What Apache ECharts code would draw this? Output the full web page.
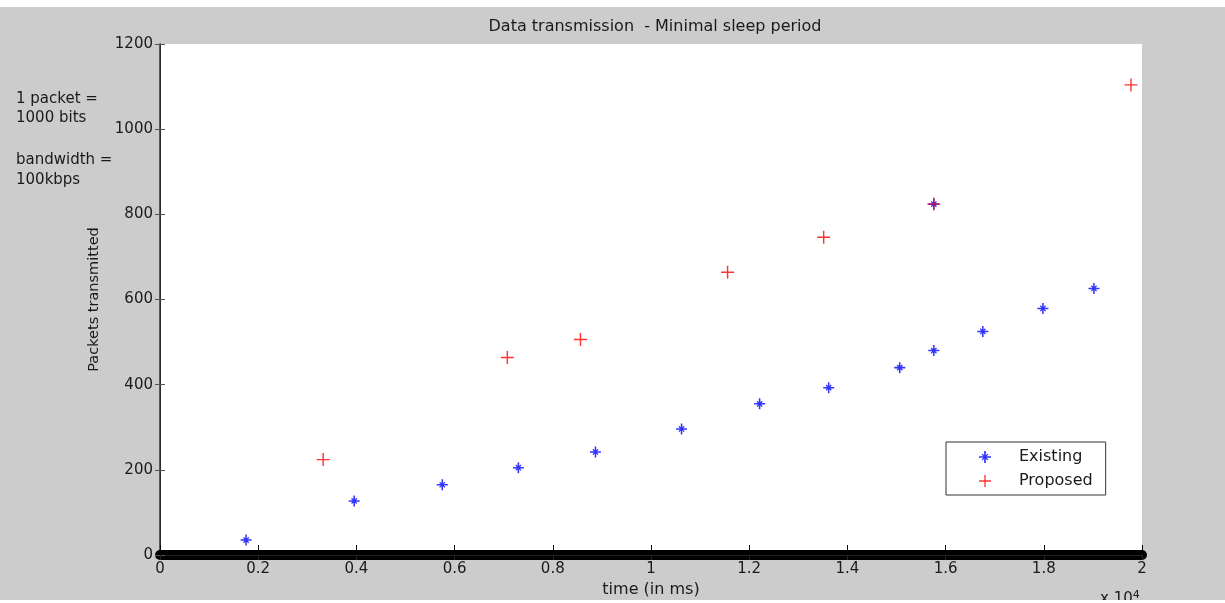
<!DOCTYPE html>
<html>
<head>
<meta charset="utf-8">
<script src="https://cdn.jsdelivr.net/npm/echarts@6/dist/echarts.min.js"></script>
<style>
html,body{margin:0;padding:0;background:#fff;width:1225px;height:603px;overflow:hidden;}
#chart{position:absolute;left:0;top:7px;width:1225px;height:593px;background:#cccccc;}
</style>
</head>
<body>
<div id="chart"></div>
<script>
const existingX = [1753, 3955, 5749, 7299, 8869, 10622, 12212, 13619, 15066, 15760, 15760, 16758, 17982, 19021];
const existingY = [35, 127, 165, 205, 242, 296, 355, 393, 440, 480, 824, 525, 579, 626];
const proposedX = [3323, 7074, 8563, 11560, 13517, 15760, 19776];
const proposedY = [224, 464, 506, 664, 746, 824, 1104];
const xTickLabels = ['0', '0.2', '0.4', '0.6', '0.8', '1', '1.2', '1.4', '1.6', '1.8', '2'];
const yTickLabels = ['0', '200', '400', '600', '800', '1000', '1200'];
const noteLines = ['1 packet =', '1000 bits', 'bandwidth =', '100kbps'];

const FONT = 'DejaVu Sans';
const TXT = '#1a1a1a';
const starPath = 'path://M4.3,0h1.4v10h-1.4z M0,4.3h10v1.4h-10z M2.2,3L3,2.2L7.8,7L7,7.8z M7,2.2L7.8,3L3,7.8L2.2,7z';
const plusPath = 'path://M4.45,0h1.1v10h-1.1z M0,4.45h10v1.1h-10z';

const chart = echarts.init(document.getElementById('chart'));
const xMax = 20000, xStep = 2000, yMax = 1200, yStep = 200;

chart.setOption({
  animation: false,
  title: {
    text: 'Data transmission  - Minimal sleep period',
    left: 650, top: 7, textAlign: 'center',
    textStyle: {fontFamily: FONT, fontSize: 16, fontWeight: 'normal', color: TXT}
  },
  grid: {left: 160, right: 83, top: 37, bottom: 45, show: true, backgroundColor: '#ffffff', borderWidth: 0,
    containLabel: false, outerBoundsMode: 'none'},
  legend: {
    orient: 'vertical', left: 946, top: 435,
    backgroundColor: '#ffffff', borderColor: '#333', borderWidth: 1,
    padding: [7, 13, 6, 33], itemGap: 8, itemWidth: 58, itemHeight: 12,
    textStyle: {fontFamily: FONT, fontSize: 16, color: TXT},
    data: [{name: 'Existing', icon: starPath}, {name: 'Proposed', icon: plusPath}]
  },
  xAxis: [{
    type: 'value', min: 0, max: xMax, interval: xStep, position: 'bottom',
    name: 'time (in ms)', nameLocation: 'middle', nameGap: 27,
    nameTextStyle: {fontFamily: FONT, fontSize: 16, color: TXT},
    axisLine: {lineStyle: {color: '#000', width: 10, cap: 'round'}},
    axisTick: {inside: true, length: 10, lineStyle: {color: '#000'}},
    axisLabel: {margin: 7, fontFamily: FONT, fontSize: 15, color: TXT,
      formatter: v => xTickLabels[Math.round(v / xStep)]},
    splitLine: {show: false}
  }, {
    type: 'value', min: 0, max: xMax, interval: xStep, position: 'top',
    axisLine: {lineStyle: {color: '#222', width: 1}},
    axisTick: {inside: true, length: 5, lineStyle: {color: '#222'}},
    axisLabel: {show: false}, splitLine: {show: false}
  }],
  yAxis: [{
    type: 'value', min: 0, max: yMax, interval: yStep, position: 'left',
    name: 'Packets transmitted', nameLocation: 'middle', nameGap: 58,
    nameTextStyle: {fontFamily: FONT, fontSize: 14.5, color: TXT},
    axisLine: {lineStyle: {color: '#111', width: 1}},
    axisTick: {inside: true, length: 5, lineStyle: {color: '#555'}},
    axisLabel: {margin: 7, fontFamily: FONT, fontSize: 15, color: TXT,
      formatter: v => yTickLabels[Math.round(v / yStep)]},
    splitLine: {show: false}
  }, {
    type: 'value', min: 0, max: yMax, interval: yStep, position: 'right',
    axisLine: {lineStyle: {color: '#333', width: 1.5}},
    axisTick: {inside: true, length: 5, lineStyle: {color: '#555'}},
    axisLabel: {show: false}, splitLine: {show: false}
  }],
  graphic: noteLines.map((t, i) => ({
    type: 'text', left: 16, top: [85, 104, 146, 166][i],
    style: {text: t, fontFamily: FONT, fontSize: 15, fill: TXT}
  })).concat([{
    type: 'text', left: 1100, top: 583,
    style: {
      text: 'x 10{s|4}', fontFamily: FONT, fontSize: 15, fill: TXT,
      rich: {s: {fontFamily: FONT, fontSize: 11, fill: TXT, verticalAlign: 'top', padding: [0, 0, 8, 0]}}
    }
  }]),
  series: [{
    name: 'Existing', type: 'scatter', symbol: starPath, symbolSize: 11,
    itemStyle: {color: '#0000ff'},
    data: existingX.map((x, i) => [x, existingY[i]])
  }, {
    name: 'Proposed', type: 'scatter', symbol: plusPath, symbolSize: 13,
    itemStyle: {color: '#ff0000'},
    data: proposedX.map((x, i) => [x, proposedY[i]])
  }]
});
</script>
</body>
</html>
